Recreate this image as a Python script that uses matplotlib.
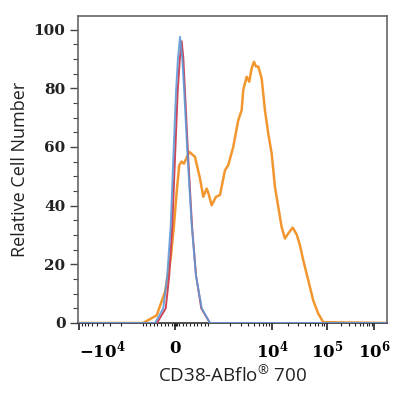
import numpy as np
import matplotlib
matplotlib.use("Agg")
import matplotlib.pyplot as plt
from matplotlib.ticker import FixedLocator, NullFormatter

# ── data (fluorescence intensity, relative cell number) ─────────────────────
blue_x = [-1.04e4, -560, -335, -225, -130, -60, 15, 68, 125, 186, 240, 335, 445, 560, 720, 945, 1.9e6]
blue_y = [0, 0, 5, 16.3, 33.3, 56, 78.8, 90.2, 97.5, 90.2, 78.8, 56, 33.3, 16.3, 5, 0, 0]

red_x = [-1.04e4, -507, -268, -170, -88, -14, 60, 120, 170, 215, 260, 350, 452, 562, 707, 945, 1.9e6]
red_y = [0, 0, 5, 16.3, 33.3, 56, 78.8, 90.2, 96, 90.2, 78.8, 56, 33.3, 16.3, 5, 0, 0]

orange_x = [-1.04e4, -890, -515, -288, -132, -41, 33, 104, 170, 233, 378, 534, 671, 762,
            855, 904, 992, 1166, 1359, 1647, 1869, 2265, 2744, 3126, 3324, 3787, 4185,
            4588, 5012, 5412, 5911, 6735, 7640, 8677, 9886, 11340, 13020, 15010, 17230,
            19790, 23780, 28130, 32280, 37080, 45710, 56360, 69470, 85650, 1.9e6]
orange_y = [0, 0, 2.6, 10.6, 22, 33.3, 44.7, 53.8, 55, 54.3, 58.3, 56.6, 49.3, 43,
            45.8, 44.1, 40.1, 43, 43.6, 52, 53.8, 60, 69.1, 72.5, 79.4, 83.9, 82.2,
            86.8, 89, 87.4, 87.4, 83.4, 72.5, 64.6, 57.8, 46.4, 39.6, 32.7, 28.8,
            30.5, 32.5, 30.2, 26.5, 21.4, 14.6, 7.7, 3.2, 0.3, 0]

x_major = [-1e4, 0, 1e4, 1e5, 1e6]
x_labels = [r"$\mathbf{-10^4}$", r"$\mathbf{0}$", r"$\mathbf{10^4}$", r"$\mathbf{10^5}$", r"$\mathbf{10^6}$"]
y_major = [0, 20, 40, 60, 80, 100]

# ── biexponential-like x scale: linear within ±1000, log decades outside ────
S_KNOTS = [-4, -3, -2, -1, 0, 1, 2, 3, 4, 5, 6, 7]
P_KNOTS = [-41, 19, 79, 139, 175.5, 212, 272, 327, 374, 421, 468, 515]


def fwd(v):
    v = np.asarray(v, dtype=float)
    a = np.maximum(np.abs(v), 1e-9)
    s = np.where(a <= 1000, v / 1000, np.sign(v) * (1 + np.log10(np.maximum(a, 1000) / 1000)))
    return np.interp(s, S_KNOTS, P_KNOTS)


def inv(p):
    s = np.interp(np.asarray(p, dtype=float), P_KNOTS, S_KNOTS)
    a = np.abs(s)
    return np.where(a <= 1, s * 1000, np.sign(s) * 1000 * 10 ** (np.maximum(a, 1) - 1))


x_minor = [k * 100 for k in range(-9, 10) if k != 0]
for dec in [1e3, 1e4, 1e5]:
    x_minor += [k * dec for k in range(2, 10)]
x_minor += [-k * 1e3 for k in range(2, 10)]
x_minor += [-30, -15, 15, 30]

serif = "DejaVu Serif"
plt.rcParams["mathtext.fontset"] = "dejavuserif"

fig = plt.figure(figsize=(4, 4), dpi=100)
ax = fig.add_axes([0.195, 0.1925, 0.7725, 0.7675])

ax.plot(orange_x, orange_y, color="#f2962f", linewidth=1.8, zorder=2)
ax.plot(red_x, red_y, color="#cf4456", linewidth=1.4, zorder=3)
ax.plot(blue_x, blue_y, color="#5e9ad8", linewidth=1.4, alpha=0.9, zorder=4)

ax.set_xscale("function", functions=(fwd, inv))
ax.set_xlim(-1.04e4, 1.9e6)
ax.set_ylim(0, 104.6)

ax.xaxis.set_major_locator(FixedLocator(x_major))
ax.xaxis.set_minor_locator(FixedLocator(x_minor))
ax.xaxis.set_minor_formatter(NullFormatter())
ax.set_xticklabels(x_labels, fontsize=12, fontfamily=serif)
ax.get_xticklabels()[0].set_horizontalalignment("left")

ax.set_yticks(y_major)
ax.set_yticks(np.arange(0, 105, 5), minor=True)
ax.set_yticklabels([str(v) for v in y_major], fontsize=11, fontfamily=serif,
                   fontweight="bold", color="#222222")

ax.tick_params(axis="x", which="major", length=5, width=1.2, color="#222222", pad=7)
ax.tick_params(axis="x", which="minor", length=2.5, width=0.8, color="#222222")
ax.tick_params(axis="y", which="major", length=6, width=1.0, color="#444444", pad=3)
ax.tick_params(axis="y", which="minor", length=3.5, width=0.8, color="#444444")

for sp in ax.spines.values():
    sp.set_color("#666666")
    sp.set_linewidth(1.2)
ax.spines["bottom"].set_color("#333333")

ax.set_ylabel("Relative Cell Number", fontsize=13, fontfamily="Open Sans", labelpad=3,
              color="#222222")
ax.set_xlabel(r"CD38-ABflo$^{\mathregular{®}}$ 700", fontsize=13.5, fontfamily="Open Sans",
              labelpad=3, color="#222222")

fig.savefig("out.png", dpi=100)
